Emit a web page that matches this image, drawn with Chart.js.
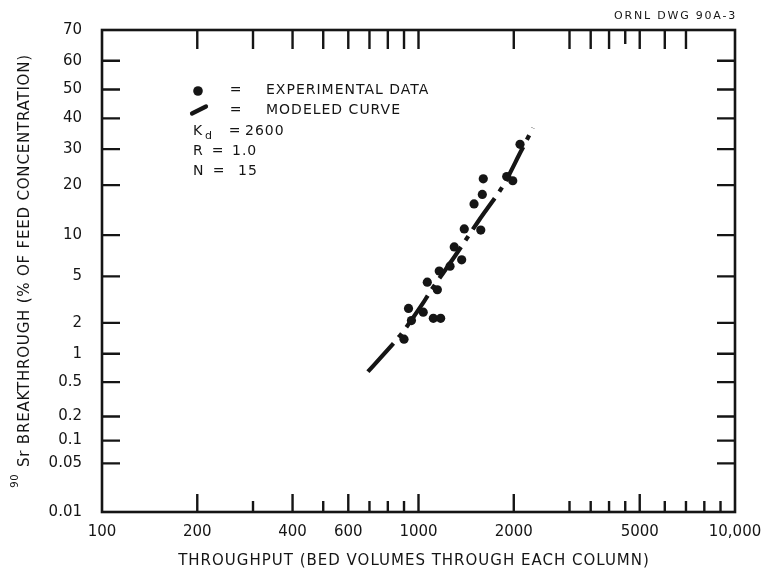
<!DOCTYPE html>
<html><head><meta charset="utf-8">
<script src="https://cdn.jsdelivr.net/npm/chart.js@4/dist/chart.umd.min.js"></script>
<style>html,body{margin:0;padding:0;background:#fff}canvas{display:block}</style>
</head><body>
<canvas id="c" width="766" height="572"></canvas>
<script>
// ---- data ----
const throughput   = [900, 930, 950, 1035, 1066, 1114, 1175, 1147, 1163, 1258, 1369, 1297, 1395, 1573, 1498, 1591, 1602, 1900, 1985, 2093];
const breakthrough = [1.4, 2.7, 2.1, 2.5, 4.5, 2.2, 2.2, 3.9, 5.5, 6.0, 6.7, 8.3, 11.0, 10.8, 15.7, 17.8, 21.6, 22.2, 21.1, 31.5];
const modelThroughput   = [692, 837, 907, 1033, 1087, 1304, 1553, 1849, 2093, 2300];
const modelBreakthrough = [0.65, 1.29, 1.75, 3.0, 3.74, 7.15, 12.5, 19.8, 28.8, 36.8];
const xTickLabels = [100, 200, 400, 600, 1000, 2000, 5000, 10000];
const xMajorMarks = [200, 400, 600, 1000, 2000, 5000];
const xMinorMarks = [300, 500, 700, 800, 900, 3000, 3500, 4000, 4500, 6000, 7000, 8000, 9000];
const xTopMarks   = [200, 300, 400, 500, 600, 700, 800, 900, 1000, 2000, 3000, 3500, 4000, 4500, 5000, 6000, 7000];
const yTickLabels = [0.01, 0.05, 0.1, 0.2, 0.5, 1, 2, 5, 10, 20, 30, 40, 50, 60, 70];
const legendItems = ['EXPERIMENTAL DATA', 'MODELED CURVE'];
const paramLines  = [['K', 'd', '2600'], ['R', '', '1.0'], ['N', '', '15']];
const xTitle = 'THROUGHPUT (BED VOLUMES THROUGH EACH COLUMN)';
const yTitleSup = '90';
const yTitle = 'Sr BREAKTHROUGH (% OF FEED CONCENTRATION)';
const drawingId = 'ORNL DWG 90A-3';

const INK = '#151515';
const FONT = '"DejaVu Sans", sans-serif';

// ---- normal probability (probit) scale ----
function probit(p) {
  const a=[-3.969683028665376e+01,2.209460984245205e+02,-2.759285104469687e+02,1.383577518672690e+02,-3.066479806614716e+01,2.506628277459239e+00];
  const b=[-5.447609879822406e+01,1.615858368580409e+02,-1.556989798598866e+02,6.680131188771972e+01,-1.328068155288572e+01];
  const c=[-7.784894002430293e-03,-3.223964580411365e-01,-2.400758277161838e+00,-2.549732539343734e+00,4.374664141464968e+00,2.938163982698783e+00];
  const d=[7.784695709041462e-03,3.224671290700398e-01,2.445134137142996e+00,3.754408661907416e+00];
  const pl=0.02425, ph=1-pl; let q, r;
  if (p < pl) { q=Math.sqrt(-2*Math.log(p)); return (((((c[0]*q+c[1])*q+c[2])*q+c[3])*q+c[4])*q+c[5])/((((d[0]*q+d[1])*q+d[2])*q+d[3])*q+1); }
  if (p <= ph) { q=p-0.5; r=q*q; return (((((a[0]*r+a[1])*r+a[2])*r+a[3])*r+a[4])*r+a[5])*q/(((((b[0]*r+b[1])*r+b[2])*r+b[3])*r+b[4])*r+1); }
  q=Math.sqrt(-2*Math.log(1-p)); return -(((((c[0]*q+c[1])*q+c[2])*q+c[3])*q+c[4])*q+c[5])/((((d[0]*q+d[1])*q+d[2])*q+d[3])*q+1);
}
function invProbit(z) { // bisection
  let lo=1e-9, hi=1-1e-9;
  for (let i=0;i<60;i++){ const m=(lo+hi)/2; if (probit(m)<z) lo=m; else hi=m; }
  return (lo+hi)/2;
}
class ProbitScale extends Chart.LinearScale {
  buildTicks() { return yTickLabels.map(v => ({ value: v })); }
  configure() {
    super.configure();
    this._zMin = probit(this.min / 100);
    this._zMax = probit(this.max / 100);
  }
  getPixelForValue(v) {
    return this.getPixelForDecimal((probit(v / 100) - this._zMin) / (this._zMax - this._zMin));
  }
  getValueForPixel(px) {
    const dd = this.getDecimalForPixel(px);
    return 100 * invProbit(this._zMin + dd * (this._zMax - this._zMin));
  }
}
ProbitScale.id = 'probit';
ProbitScale.defaults = Chart.LinearScale.defaults;
Chart.register(ProbitScale);

// ---- decorations drawn with the scales ----
const frameTicks = {
  id: 'frameTicks',
  afterDraw(chart) {
    const { ctx, chartArea: a, scales: { x, y } } = chart;
    ctx.save();
    ctx.strokeStyle = INK; ctx.lineWidth = 2.4; ctx.lineCap = 'butt';
    ctx.beginPath();
    yTickLabels.forEach(v => {
      if (v <= y.min || v >= y.max) return;
      const py = y.getPixelForValue(v);
      ctx.moveTo(a.left, py); ctx.lineTo(a.left + 18, py);
      ctx.moveTo(a.right, py); ctx.lineTo(a.right - 18, py);
    });
    xMajorMarks.forEach(v => { const px = x.getPixelForValue(v); ctx.moveTo(px, a.bottom); ctx.lineTo(px, a.bottom - 18); });
    xMinorMarks.forEach(v => { const px = x.getPixelForValue(v); ctx.moveTo(px, a.bottom); ctx.lineTo(px, a.bottom - 11); });
    xTopMarks.forEach(v => { const px = x.getPixelForValue(v); ctx.moveTo(px, a.top); ctx.lineTo(px, a.top + (v === 4500 ? 14 : 19)); });
    ctx.stroke();
    ctx.lineWidth = 2.6;
    ctx.strokeRect(a.left, a.top, a.right - a.left, a.bottom - a.top);
    ctx.restore();
  }
};

const annotations = {
  id: 'annotations',
  afterDraw(chart) {
    const { ctx, chartArea: a } = chart;
    ctx.save();
    ctx.fillStyle = INK; ctx.strokeStyle = INK;
    // drawing id
    ctx.font = '11px ' + FONT; ctx.letterSpacing = '1.8px';
    ctx.textAlign = 'right'; ctx.textBaseline = 'middle';
    ctx.fillText(drawingId, a.right + 2, 16);
    // legend
    ctx.beginPath(); ctx.arc(198, 91, 4.8, 0, Math.PI * 2); ctx.fill();
    ctx.lineWidth = 4.2; ctx.lineCap = 'round';
    ctx.beginPath(); ctx.moveTo(192, 113.5); ctx.lineTo(206, 106.5); ctx.stroke();
    ctx.font = '14px ' + FONT; ctx.letterSpacing = '1px';
    ctx.textAlign = 'center';
    ctx.fillText('=', 236, 90); ctx.fillText('=', 236, 110);
    ctx.textAlign = 'left';
    ctx.fillText(legendItems[0], 266, 90);
    ctx.fillText(legendItems[1], 266, 110);
    // parameters
    const rows = [131, 151, 171];
    const eqX = [235, 218, 219];
    const valX = [245, 232, 238];
    paramLines.forEach((p, i) => {
      ctx.font = '14px ' + FONT; ctx.textAlign = 'left';
      ctx.fillText(p[0], 193, rows[i]);
      if (p[1]) {
        ctx.font = '11px ' + FONT;
        ctx.fillText(p[1], 205, rows[i] + 5);
        ctx.font = '14px ' + FONT;
      }
      ctx.textAlign = 'center'; ctx.fillText('=', eqX[i], rows[i]);
      ctx.textAlign = 'left'; ctx.fillText(p[2], valX[i], rows[i]);
    });
    // x title
    ctx.font = '15px ' + FONT; ctx.letterSpacing = '1px';
    ctx.textAlign = 'center'; ctx.textBaseline = 'middle';
    ctx.fillText(xTitle, 414, 561);
    // y title
    ctx.translate(25, 467); ctx.rotate(-Math.PI / 2);
    ctx.textAlign = 'left'; ctx.letterSpacing = '0.8px';
    ctx.fillText(yTitle, 0, 0);
    ctx.font = '10px ' + FONT; ctx.letterSpacing = '0.5px'; ctx.textAlign = 'right';
    ctx.fillText(yTitleSup, -7, -10);
    ctx.restore();
  }
};

new Chart(document.getElementById('c'), {
  type: 'scatter',
  data: {
    datasets: [
      {
        label: 'Modeled curve',
        data: modelThroughput.map((v, i) => ({ x: v, y: modelBreakthrough[i] })),
        showLine: true, pointRadius: 0, borderColor: INK, borderWidth: 4.2,
        borderDash: [38, 8, 5, 8], tension: 0.25, fill: false
      },
      {
        label: 'Experimental data',
        data: throughput.map((v, i) => ({ x: v, y: breakthrough[i] })),
        pointRadius: 4.6, pointBackgroundColor: INK, pointBorderColor: INK, pointBorderWidth: 0
      }
    ]
  },
  options: {
    responsive: false, animation: false, events: [], devicePixelRatio: 1,
    layout: { padding: { top: 30, right: 31, left: 0, bottom: 0 } },
    plugins: { legend: { display: false }, tooltip: { enabled: false } },
    scales: {
      x: {
        type: 'logarithmic', position: 'bottom', min: 100, max: 10000,
        grid: { display: false }, border: { display: false },
        afterBuildTicks: s => { s.ticks = xTickLabels.map(v => ({ value: v })); },
        afterFit: s => { s.height = 60; },
        ticks: {
          autoSkip: false, maxRotation: 0, padding: 3, color: INK,
          font: { family: FONT, size: 15 },
          callback: v => v >= 10000 ? v.toLocaleString('en-US') : String(v)
        }
      },
      y: {
        type: 'probit', position: 'left', min: 0.01, max: 70,
        grid: { display: false }, border: { display: false },
        afterFit: s => { s.width = 102; },
        ticks: {
          autoSkip: false, padding: 12, color: INK,
          font: { family: FONT, size: 15 },
          callback: v => String(v)
        }
      }
    }
  },
  plugins: [frameTicks, annotations]
});
</script>
</body></html>
